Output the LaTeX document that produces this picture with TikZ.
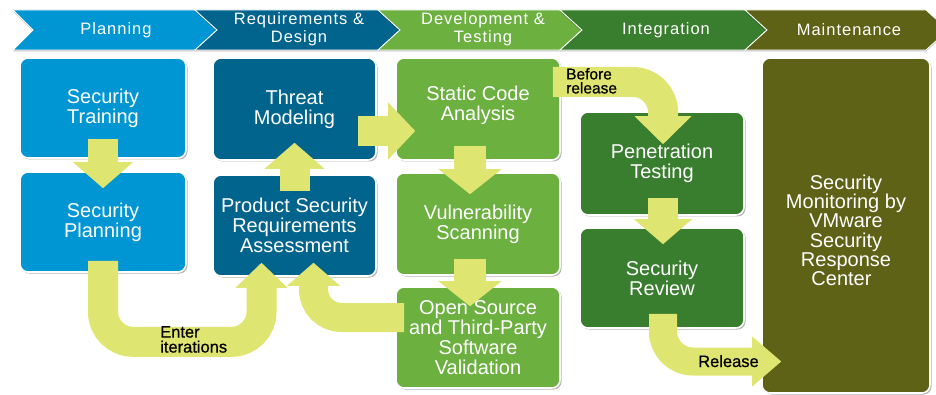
\documentclass[tikz,border=0pt]{standalone}
\usepackage{fontspec}
\setmainfont{Liberation Sans}
\usetikzlibrary{arrows.meta,calc,shadows}
\definecolor{cblue}{RGB}{0,150,212}
\definecolor{cteal}{RGB}{0,100,140}
\definecolor{cgreen}{RGB}{108,176,64}
\definecolor{cdgreen}{RGB}{57,125,46}
\definecolor{colive}{RGB}{94,98,22}
\definecolor{carrow}{RGB}{222,229,112}
\tikzset{
  box/.style={rounded corners=8pt, draw=white, line width=1.6pt, text=white,
    align=center, inner sep=0pt, font=\fontsize{20}{20}\selectfont,
    drop shadow={shadow xshift=1.5pt, shadow yshift=-1.5pt, opacity=0.3, fill=black}},
  barrow/.style={draw=carrow, line width=30pt,
    -{Triangle[width=60pt,length=26pt,line width=0pt]}},
  lbl/.style={text=black, font=\fontsize{16.5}{15}\selectfont\addfontfeature{FakeBold=0.6},
    inner sep=0pt, align=left},
  hdr/.style={text=white, font=\fontsize{16.5}{18}\selectfont\addfontfeature{LetterSpace=6},
    align=center, inner sep=0pt},
  chev/.style={draw=white, line width=0.8pt,
    drop shadow={shadow xshift=0pt, shadow yshift=-1.5pt, opacity=0.25, fill=black}},
}
\begin{document}
\begin{tikzpicture}[x=1pt,y=-1pt]
\useasboundingbox (0,0) rectangle (936,395);
\fill[white] (0,0) rectangle (936,395);

% header chevrons
\fill[cblue, chev]  (13,10) -- (195,10) -- (217,30) -- (195,50) -- (13,50) -- (33,30) -- cycle;
\fill[cteal, chev]  (195,10) -- (378,10) -- (400,30) -- (378,50) -- (195,50) -- (217,30) -- cycle;
\fill[cgreen, chev] (378,10) -- (560,10) -- (582,30) -- (560,50) -- (378,50) -- (400,30) -- cycle;
\fill[cdgreen, chev] (560,10) -- (745,10) -- (767,30) -- (745,50) -- (560,50) -- (582,30) -- cycle;
\fill[colive, chev] (745,10) -- (926,10) -- (948,30) -- (926,50) -- (745,50) -- (767,30) -- cycle;

\node[hdr] (h1) at (116,30) {Planning};
\node[hdr] (h2) at (299,29) {Requirements \&\\Design};
\node[hdr] (h3) at (483,29) {Development \&\\Testing};
\node[hdr] (h4) at (666,30) {Integration};
\node[hdr] (h5) at (849,30) {Maintenance};

% boxes
\node[box, fill=cblue, minimum width=166pt, minimum height=100pt] (st) at (103,108) {Security\\Training};
\node[box, fill=cblue, minimum width=166pt, minimum height=100pt] (sp) at (103,222) {Security\\Planning};
\node[box, fill=cteal, minimum width=163pt, minimum height=102pt] (tm) at (294.5,109) {Threat\\Modeling};
\node[box, fill=cteal, minimum width=163pt, minimum height=101pt] (psra) at (294.5,225.5) {Product Security\\Requirements\\Assessment};
\node[box, fill=cgreen, minimum width=164pt, minimum height=102pt, text depth=12pt] (sca) at (478,109) {Static Code\\Analysis};
\node[box, fill=cgreen, minimum width=164pt, minimum height=102pt] (vs) at (478,224) {Vulnerability\\Scanning};
\node[box, fill=cgreen, minimum width=164pt, minimum height=101pt] (os) at (478,337.5) {Open Source\\and Third-Party\\Software\\Validation};
\node[box, fill=cdgreen, minimum width=164pt, minimum height=103pt] (pt) at (662,163.5) {Penetration\\Testing};
\node[box, fill=cdgreen, minimum width=164pt, minimum height=100pt] (sr) at (662,278) {Security\\Review};
\node[box, fill=colive, minimum width=168pt, minimum height=335pt,
  font=\fontsize{20}{19.3}\selectfont] (mon) at (846,225.5)
  {\\[5pt]Security\hspace*{9pt}\\Monitoring by\hspace*{9pt}\\VMware\hspace*{9pt}\\Security\hspace*{9pt}\\Response\hspace*{9pt}\\Center\hspace*{9pt}};

% arrows
\draw[barrow] ($(st.south)+(0,-20)$) -- ($(sp.north)+(0,17)$);
\draw[barrow] ($(psra.north)+(0,17)$) -- ($(tm.south)+(0,-18)$);
\draw[barrow, -{Triangle[width=57pt,length=27pt,line width=0pt]}] ($(tm.east)+(-19,22)$) -- ($(sca.west)+(20,22)$);
\draw[barrow, line width=32pt, -{Triangle[width=63pt,length=25pt,line width=0pt]}] ($(sca.south)+(-8,-15)$) -- ($(vs.north)+(-8,22)$);
\draw[barrow, line width=32pt, -{Triangle[width=63pt,length=25pt,line width=0pt]}] ($(vs.south)+(-8,-17)$) -- ($(os.north)+(-8,20)$);
\draw[barrow, rounded corners=30pt, -{Triangle[width=52pt,length=25pt,line width=0pt]}]
  ($(sp.south)+(0,-12)$) -- ++(0,81) -| ($(psra.south)+(-33,-14)$);
\draw[barrow, line width=29pt, rounded corners=28pt, -{Triangle[width=53pt,length=23pt,line width=0pt]}]
  ($(os.west)+(9,-20)$) -| ($(psra.south)+(19,-14)$);
\draw[barrow, rounded corners=30pt, -{Triangle[width=57pt,length=28pt,line width=0pt]}]
  ($(sca.east)+(-8,-27)$) -| ($(pt.north)+(1,33)$);
\draw[barrow, -{Triangle[width=58pt,length=25pt,line width=0pt]}] ($(pt.south)+(1,-18)$) -- ($(sr.north)+(1,17)$);
\draw[barrow, line width=28pt, rounded corners=30pt, -{Triangle[width=50pt,length=29pt,line width=0pt]}]
  ($(sr.south)+(1,-15)$) |- ($(mon.west)+(20,136)$);

% arrow labels
\node[lbl, anchor=north west] (l1) at (160,326) {Enter\\iterations};
\node[lbl, anchor=north west, font=\fontsize{15.5}{14}\selectfont\addfontfeature{FakeBold=0.6}] (l2) at (566,68) {Before\\release};
\node[lbl, anchor=base west] (l3) at (698,367) {Release};
\end{tikzpicture}
\end{document}
